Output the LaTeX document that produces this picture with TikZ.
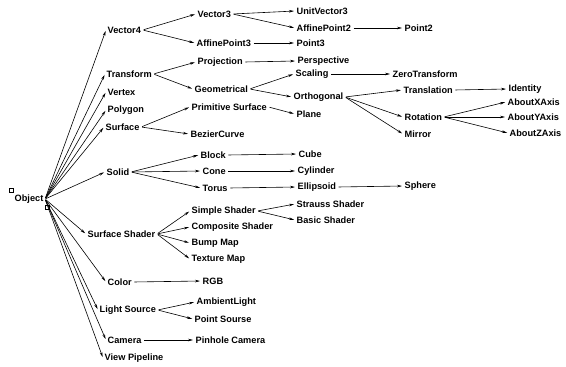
\documentclass[tikz,border=0pt]{standalone}
\usepackage{fontspec}
\setmainfont{Liberation Sans}
\usetikzlibrary{arrows.meta}
\begin{document}
\begin{tikzpicture}[x=1pt,y=-1pt,
  lbl/.style={anchor=west,inner sep=1.5pt,font=\fontsize{9.2}{10}\selectfont\bfseries},
  arr/.style={-{Stealth[length=5pt,width=2.6pt]},line width=0.6pt,shorten <=1pt,shorten >=1pt},
  handle/.style={draw,line width=0.5pt,minimum size=3.5pt,inner sep=0pt}]
\useasboundingbox (0,0) rectangle (566,367);
% root
\node[lbl] (Object) at (13,199) {Object};
\node[handle] (h1) at (11,190) {};
\node[handle] (h2) at (47,207) {};
% level 1
\node[lbl] (Vector4) at (106,30) {Vector4};
\node[lbl] (Transform) at (105,74) {Transform};
\node[lbl] (Vertex) at (106,92) {Vertex};
\node[lbl] (Polygon) at (106,110) {Polygon};
\node[lbl] (Surface) at (104,127) {Surface};
\node[lbl] (Solid) at (105,172) {Solid};
\node[lbl] (SurfaceShader) at (86,234) {Surface Shader};
\node[lbl] (Color) at (106,282) {Color};
\node[lbl] (LightSource) at (98,310) {Light Source};
\node[lbl] (Camera) at (106,340) {Camera};
\node[lbl] (ViewPipeline) at (103,358) {View Pipeline};
% level 2
\node[lbl] (Vector3) at (196,14) {Vector3};
\node[lbl] (AffinePoint3) at (195,43) {AffinePoint3};
\node[lbl] (Projection) at (196,62) {Projection};
\node[lbl] (Geometrical) at (193,89) {Geometrical};
\node[lbl] (PrimitiveSurface) at (190,107) {Primitive Surface};
\node[lbl] (BezierCurve) at (189,134) {BezierCurve};
\node[lbl] (Block) at (199,155) {Block};
\node[lbl] (Cone) at (201,171) {Cone};
\node[lbl] (Torus) at (201,188) {Torus};
\node[lbl] (SimpleShader) at (190,211) {Simple Shader};
\node[lbl] (CompositeShader) at (190,227) {Composite Shader};
\node[lbl] (BumpMap) at (190,243) {Bump Map};
\node[lbl] (TextureMap) at (190,259) {Texture Map};
\node[lbl] (RGB) at (201,281) {RGB};
\node[lbl] (AmbientLight) at (195,302) {AmbientLight};
\node[lbl] (PointSourse) at (193,319) {Point Sourse};
\node[lbl] (PinholeCamera) at (194,340) {Pinhole Camera};
% level 3
\node[lbl] (UnitVector3) at (295,11) {UnitVector3};
\node[lbl] (AffinePoint2) at (295,28) {AffinePoint2};
\node[lbl] (Point3) at (295,43) {Point3};
\node[lbl] (Perspective) at (296,61) {Perspective};
\node[lbl] (Scaling) at (294,74) {Scaling};
\node[lbl] (Orthogonal) at (292,97) {Orthogonal};
\node[lbl] (Plane) at (295,114) {Plane};
\node[lbl] (Cube) at (297,154) {Cube};
\node[lbl] (Cylinder) at (296,171) {Cylinder};
\node[lbl] (Ellipsoid) at (296,187) {Ellipsoid};
\node[lbl] (StraussShader) at (295,204) {Strauss Shader};
\node[lbl] (BasicShader) at (295,220) {Basic Shader};
% level 4
\node[lbl] (Point2) at (403,28) {Point2};
\node[lbl] (ZeroTransform) at (391,74) {ZeroTransform};
\node[lbl] (Translation) at (402,90) {Translation};
\node[lbl] (Rotation) at (403,117) {Rotation};
\node[lbl] (Mirror) at (403,134) {Mirror};
\node[lbl] (Sphere) at (403,186) {Sphere};
% level 5
\node[lbl] (Identity) at (507,89) {Identity};
\node[lbl] (AboutXAxis) at (506,102) {AboutXAxis};
\node[lbl] (AboutYAxis) at (506,117) {AboutYAxis};
\node[lbl] (AboutZAxis) at (508,133) {AboutZAxis};
% connectors from Object
\foreach \c in {Vector4,Transform,Vertex,Polygon,Surface,Solid,SurfaceShader,Color,LightSource,Camera,ViewPipeline}
  \draw[arr] (Object.east) -- (\c.west);
% other connectors
\foreach \a/\b in {Vector4/Vector3,Vector4/AffinePoint3,Vector3/UnitVector3,Vector3/AffinePoint2,
  AffinePoint2/Point2,AffinePoint3/Point3,Transform/Projection,Transform/Geometrical,
  Projection/Perspective,Geometrical/Scaling,Geometrical/Orthogonal,Scaling/ZeroTransform,
  Orthogonal/Translation,Orthogonal/Rotation,Orthogonal/Mirror,Translation/Identity,
  Rotation/AboutXAxis,Rotation/AboutYAxis,Rotation/AboutZAxis,
  Surface/PrimitiveSurface,Surface/BezierCurve,PrimitiveSurface/Plane,
  Solid/Block,Solid/Cone,Solid/Torus,Block/Cube,Cone/Cylinder,Torus/Ellipsoid,Ellipsoid/Sphere,
  SurfaceShader/SimpleShader,SurfaceShader/CompositeShader,SurfaceShader/BumpMap,SurfaceShader/TextureMap,
  SimpleShader/StraussShader,SimpleShader/BasicShader,Color/RGB,
  LightSource/AmbientLight,LightSource/PointSourse,Camera/PinholeCamera}
  \draw[arr] (\a.east) -- (\b.west);
\end{tikzpicture}
\end{document}
